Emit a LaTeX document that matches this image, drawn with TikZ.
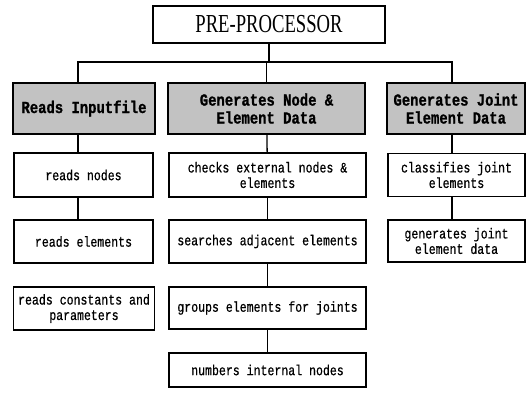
\documentclass[tikz,border=0pt]{standalone}
\usepackage{fontspec}
\setmainfont{Liberation Serif}
\newfontfamily\prefont[FakeStretch=0.72]{Liberation Serif}
\newfontfamily\bodyfont[FakeStretch=0.8,FakeBold=0.6]{Liberation Mono}
\newfontfamily\hdrfont[FakeStretch=0.82,FakeBold=1]{Liberation Mono}
\begin{document}
\begin{tikzpicture}[x=1bp,y=-1bp,
  box/.style={draw=black,line width=1.6bp,fill=white,align=center,inner sep=1bp,
    font=\bodyfont\fontsize{14.5}{15.5}\selectfont},
  hdr/.style={draw=black,line width=1.7bp,fill=black!24,align=center,inner sep=1bp,
    font=\hdrfont\bfseries\fontsize{17}{18}\selectfont},
  top/.style={draw=black,line width=1.6bp,fill=white,inner sep=0pt,
    font=\prefont\fontsize{26}{26}\selectfont},
  link/.style={draw=black,line width=1.3bp}]
\useasboundingbox (0,0) rectangle (531,397);
% top
\node[top,minimum width=232bp,minimum height=37bp] (pre) at (269,24.5) {PRE-PROCESSOR};
% headers
\node[hdr,minimum width=142bp,minimum height=51bp] (h1) at (84,108.5) {Reads Inputfile};
\node[hdr,minimum width=197bp,minimum height=51bp] (h2) at (266.5,108.5) {Generates Node \&\\Element Data};
\node[hdr,minimum width=138bp,minimum height=51bp] (h3) at (456,108.5) {Generates Joint\\Element Data};
% left column
\node[box,minimum width=139bp,minimum height=44bp] (l1) at (83.5,175) {reads nodes};
\node[box,minimum width=139bp,minimum height=43bp] (l2) at (83.5,241.5) {reads elements};
\node[box,minimum width=141bp,minimum height=43bp] (l3) at (84,308.5) {reads constants and\\parameters};
% middle column
\node[box,minimum width=197bp,minimum height=44bp] (m1) at (267.5,175) {checks external nodes \&\\elements};
\node[box,minimum width=197bp,minimum height=43bp] (m2) at (267.5,241.5) {searches adjacent elements};
\node[box,minimum width=197bp,minimum height=42bp] (m3) at (267.5,308) {groups elements for joints};
\node[box,minimum width=197bp,minimum height=34bp] (m4) at (267.5,370) {numbers internal nodes};
% right column
\node[box,minimum width=137bp,minimum height=43bp] (r1) at (456.5,175) {classifies joint\\elements};
\node[box,minimum width=137bp,minimum height=42bp] (r2) at (456.5,241) {generates joint\\element data};
% connector guide positions
\coordinate (bus) at (0,62);
\coordinate (lx) at (78,0);
\coordinate (rx) at (452,0);
\draw[link] (pre.south) -- (pre.south |- bus);
\draw[link] (h1.north -| lx) -- (lx |- bus) -- (rx |- bus) -- (h3.north -| rx);
\draw[link] (h2.north) -- (h2.north |- bus);
\draw[link] (h1.south -| lx) -- (l1.north -| lx);
\draw[link] (l1.south -| lx) -- (l2.north -| lx);
\draw[link] (h2) -- (m1);
\draw[link] (m1) -- (m2);
\draw[link] (m2) -- (m3);
\draw[link] (m3) -- (m4);
\draw[link] (h3.south -| rx) -- (r1.north -| rx);
\draw[link] (r1.south -| rx) -- (r2.north -| rx);
\end{tikzpicture}
\end{document}
